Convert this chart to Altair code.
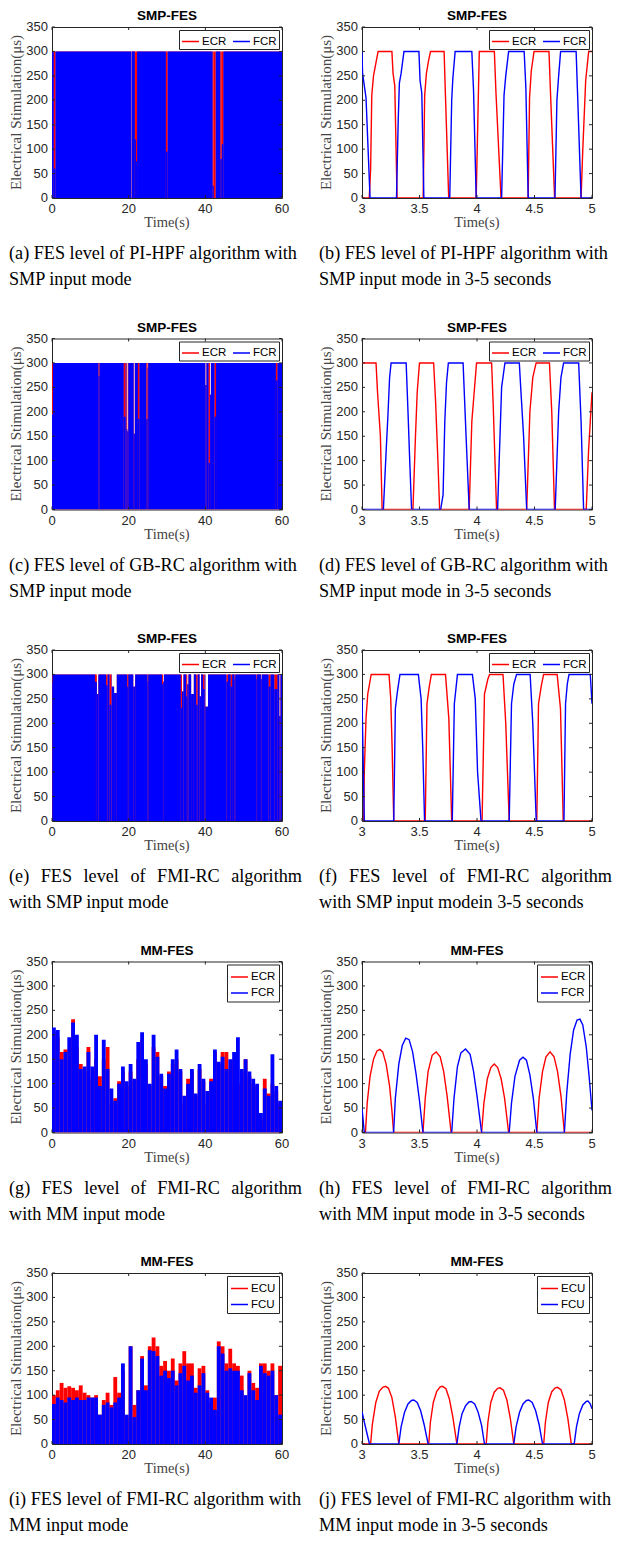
import altair as alt
import pandas as pd

# ---------------------------------------------------------------- style
RED, BLUE = "#ff0000", "#0000ff"
SANS, SERIF = "Liberation Sans", "Liberation Serif"
INK = "#262626"
W, H = 230, 171
COL_GAP, ROW_GAP = 80, 140.5
CAP_SIZE = 18.2
CAP_X = -43
CAP_Y1, CAP_Y2 = H + 61, H + 87
JUST_W = 293

# ---------------------------------------------------------------- ticks
Y_TICKS = [0, 50, 100, 150, 200, 250, 300, 350]
Y_LABELS = ["0", "50", "100", "150", "200", "250", "300", "350"]
X_TICKS_60 = [0, 20, 40, 60]
X_LABELS_60 = ["0", "20", "40", "60"]
X_TICKS_35 = [3, 3.5, 4, 4.5, 5]
X_LABELS_35 = ["3", "3.5", "4", "4.5", "5"]

# ---------------------------------------------------------------- data
# 60 s SMP panels: segments where the envelope departs from the 300 us ceiling
A_T0 = [0.45, 20.6, 21.6, 21.9, 29.7, 41.9, 42.2, 43.9, 44.3]
A_T1 = [0.9, 20.75, 21.9, 22.2, 30.15, 42.2, 42.7, 44.3, 44.7]
A_ECR = [300, 0, 300, 300, 300, 300, 300, 300, 300]
A_FCR = [60, 0, 120, 75, 95, 25, 0, 80, 110]

C_T0 = [0.0, 12.1, 18.7, 19.4, 19.65, 21.3, 22.4, 24.6, 24.95, 40.0, 40.85, 41.2, 42.4, 58.4]
C_T1 = [0.25, 12.4, 19.2, 19.65, 19.9, 21.6, 22.8, 24.95, 25.1, 40.3, 41.2, 41.45, 42.8, 58.8]
C_ECR = [300, 300, 300, 300, 160, 155, 300, 300, 290, 255, 300, 235, 300, 300]
C_FCR = [195, 274, 190, 165, 160, 155, 185, 185, 290, 255, 95, 235, 190, 264]

E_T0 = [0.0, 11.2, 11.7, 14.1, 15.0, 15.6, 16.2, 19.6, 21.2, 24.9, 28.7, 29.0, 33.6, 33.9, 35.0,
        35.3, 36.3, 37.6, 38.5, 39.4, 40.0, 45.5, 46.6, 47.6, 53.3, 54.5, 56.5, 58.0, 59.3]
E_T1 = [0.15, 11.7, 12.1, 14.5, 15.5, 16.2, 16.9, 19.9, 21.7, 25.1, 29.0, 29.2, 33.9, 34.3, 35.3,
        35.6, 37.0, 38.0, 38.9, 39.8, 40.7, 45.9, 47.0, 47.8, 53.5, 54.7, 57.0, 58.8, 59.6]
E_ECR = [300, 300, 260, 300, 300, 275, 262, 300, 275, 300, 300, 285, 300, 265, 300,
         280, 260, 300, 255, 300, 234, 300, 300, 300, 300, 290, 300, 300, 215]
E_FCR = [283, 285, 260, 278, 238, 275, 262, 275, 275, 285, 280, 285, 231, 265, 255,
         280, 260, 238, 255, 270, 234, 285, 275, 290, 290, 290, 275, 270, 215]

# 60 s MM panels: per-second envelope (start of each 1 s bin)
BIN_START = list(range(60))
G_ECR = [205, 195, 165, 170, 170, 232, 175, 140, 125, 175, 110, 150, 115, 150, 175, 60, 70, 105, 125, 95,
         125, 105, 150, 190, 140, 95, 175, 165, 115, 95, 125, 140, 150, 125, 60, 110, 125, 75, 130, 105,
         60, 110, 165, 140, 165, 165, 130, 150, 100, 125, 150, 115, 100, 95, 30, 110, 80, 100, 85, 60]
G_FCR = [215, 210, 150, 165, 195, 225, 200, 130, 135, 165, 135, 200, 95, 190, 130, 90, 65, 100, 135, 105,
         140, 110, 185, 205, 150, 100, 200, 155, 120, 90, 120, 150, 170, 130, 75, 100, 130, 80, 140, 110,
         85, 105, 170, 145, 155, 130, 150, 165, 195, 130, 150, 125, 110, 100, 40, 90, 75, 160, 95, 65]
I_ECU = [100, 110, 125, 115, 118, 115, 110, 120, 105, 100, 95, 100, 60, 90, 105, 80, 137, 105, 150, 55,
         200, 80, 110, 180, 120, 200, 218, 200, 160, 170, 150, 175, 130, 165, 190, 165, 165, 115, 155, 160,
         110, 85, 95, 210, 200, 165, 195, 165, 160, 140, 90, 150, 125, 115, 165, 165, 150, 165, 100, 160]
I_FCU = [82, 95, 90, 85, 95, 90, 95, 90, 90, 95, 95, 95, 60, 80, 85, 75, 85, 95, 165, 60,
         200, 55, 110, 175, 110, 192, 190, 180, 140, 150, 135, 150, 120, 145, 160, 130, 140, 105, 120, 145,
         105, 95, 70, 200, 185, 150, 155, 150, 150, 110, 100, 145, 110, 90, 160, 145, 140, 150, 100, 60]

# 3-5 s panels: (time, value) break points
B_ECR_T = [3.0, 3.063, 3.075, 3.085, 3.10, 3.14, 3.26, 3.27, 3.285, 3.305, 3.532, 3.545, 3.56, 3.578, 3.596,
           3.714, 3.725, 3.754, 3.993, 4.02, 4.151, 4.165, 4.209, 4.445, 4.457, 4.472, 4.496, 4.626, 4.64,
           4.675, 4.905, 4.92, 4.945, 4.971, 5.0]
B_ECR_V = [0, 0, 60, 210, 250, 300, 300, 255, 230, 0, 0, 210, 255, 280, 300,
           300, 215, 0, 0, 300, 300, 215, 0, 0, 205, 260, 300, 300, 210,
           0, 0, 100, 240, 300, 300]
B_FCR_T = [3.0, 3.005, 3.035, 3.07, 3.30, 3.315, 3.325, 3.34, 3.365, 3.495, 3.505, 3.52, 3.538, 3.763, 3.78,
           3.79, 3.81, 3.955, 3.97, 3.993, 4.214, 4.235, 4.25, 4.275, 4.41, 4.425, 4.445, 4.678, 4.695, 4.71,
           4.727, 4.862, 4.875, 4.905, 5.0]
B_FCR_V = [300, 255, 205, 0, 0, 160, 235, 255, 300, 300, 240, 215, 0, 0, 200,
           245, 300, 300, 220, 0, 0, 210, 250, 300, 300, 225, 0, 0, 200, 250,
           300, 300, 210, 0, 0]

D_ECR_T = [3.0, 3.122, 3.135, 3.16, 3.175, 3.443, 3.465, 3.48, 3.50, 3.623, 3.64, 3.66, 3.675, 3.932, 3.955,
           3.996, 4.127, 4.14, 4.17, 4.432, 4.46, 4.485, 4.514, 4.63, 4.65, 4.674, 4.95, 4.97, 5.0]
D_ECR_V = [300, 300, 240, 150, 0, 0, 150, 240, 300, 300, 220, 100, 0, 0, 180,
           300, 300, 220, 0, 0, 200, 270, 300, 300, 200, 0, 0, 120, 240]
D_FCR_T = [3.0, 3.186, 3.21, 3.225, 3.24, 3.253, 3.384, 3.40, 3.415, 3.431, 3.684, 3.705, 3.72, 3.735, 3.751,
           3.879, 3.905, 3.932, 4.179, 4.214, 4.243, 4.368, 4.38, 4.405, 4.432, 4.68, 4.71, 4.73, 4.753, 4.884,
           4.905, 4.927, 5.0]
D_FCR_V = [0, 0, 120, 190, 270, 300, 300, 200, 100, 0, 0, 30, 180, 260, 300,
           300, 150, 0, 0, 250, 300, 300, 250, 150, 0, 0, 200, 270, 300, 300,
           180, 0, 0]

F_ECR_T = [3.0, 3.015, 3.02, 3.035, 3.05, 3.08, 3.235, 3.25, 3.262, 3.276, 3.55, 3.565, 3.585, 3.603, 3.726,
           3.755, 3.78, 4.044, 4.065, 4.094, 4.109, 4.226, 4.25, 4.28, 4.52, 4.535, 4.558, 4.579, 4.697, 4.726,
           4.75, 5.0]
F_ECR_V = [0, 0, 100, 210, 260, 300, 300, 250, 150, 0, 0, 240, 275, 300, 300,
           210, 0, 0, 260, 290, 300, 300, 200, 0, 0, 240, 275, 300, 300, 230,
           0, 0]
F_FCR_T = [3.0, 3.02, 3.276, 3.29, 3.308, 3.33, 3.49, 3.514, 3.528, 3.544, 3.785, 3.803, 3.83, 3.96, 3.985,
           4.005, 4.035, 4.28, 4.30, 4.32, 4.344, 4.462, 4.485, 4.515, 4.756, 4.77, 4.785, 4.80, 4.985, 5.0]
F_FCR_V = [250, 0, 0, 230, 265, 300, 300, 250, 150, 0, 0, 240, 300, 300, 250,
           100, 0, 0, 240, 280, 300, 300, 200, 0, 0, 240, 280, 300, 300, 240]

H_ECR_T = [3.0, 3.03, 3.045, 3.07, 3.10, 3.13, 3.155, 3.18, 3.21, 3.24, 3.26, 3.275,
           3.53, 3.55, 3.575, 3.61, 3.645, 3.68, 3.71, 3.74, 3.775,
           4.04, 4.06, 4.09, 4.12, 4.15, 4.18, 4.21, 4.24, 4.275,
           4.52, 4.54, 4.57, 4.60, 4.635, 4.67, 4.70, 4.73, 4.76, 5.0]
H_ECR_V = [0, 0, 60, 115, 150, 167, 170, 165, 140, 95, 45, 0,
           0, 70, 125, 158, 165, 155, 125, 75, 0,
           0, 60, 110, 133, 140, 133, 110, 70, 0,
           0, 70, 125, 155, 165, 155, 125, 75, 0, 0]
H_FCR_T = [3.0, 3.02, 3.275, 3.29, 3.32, 3.35, 3.38, 3.41, 3.44, 3.47, 3.50, 3.53,
           3.78, 3.80, 3.83, 3.86, 3.90, 3.94, 3.97, 4.00, 4.04,
           4.28, 4.30, 4.33, 4.37, 4.40, 4.43, 4.46, 4.49, 4.52,
           4.76, 4.78, 4.81, 4.84, 4.87, 4.895, 4.92, 4.95, 4.975, 5.0]
H_FCR_V = [50, 0, 0, 70, 140, 178, 193, 190, 165, 120, 65, 0,
           0, 70, 135, 163, 171, 160, 125, 75, 0,
           0, 60, 115, 148, 154, 148, 118, 70, 0,
           0, 80, 160, 210, 230, 232, 220, 175, 115, 45]

J_ECU_T = [3.0, 3.075, 3.09, 3.12, 3.15, 3.18, 3.205, 3.23, 3.26, 3.29, 3.32,
           3.58, 3.595, 3.62, 3.65, 3.68, 3.70, 3.73, 3.76, 3.79, 3.825,
           4.08, 4.095, 4.12, 4.15, 4.18, 4.20, 4.23, 4.26, 4.29, 4.32,
           4.58, 4.595, 4.62, 4.65, 4.68, 4.70, 4.73, 4.76, 4.79, 4.82, 5.0]
J_ECU_V = [0, 0, 40, 85, 108, 116, 118, 114, 95, 55, 0,
           0, 45, 85, 108, 117, 118, 113, 92, 55, 0,
           0, 45, 85, 106, 114, 115, 110, 90, 52, 0,
           0, 45, 85, 107, 115, 116, 111, 90, 52, 0, 0]
J_FCU_T = [3.0, 3.02, 3.045, 3.065, 3.32, 3.34, 3.37, 3.40, 3.43, 3.45, 3.48, 3.51, 3.54, 3.575,
           3.825, 3.845, 3.87, 3.90, 3.93, 3.95, 3.98, 4.01, 4.04, 4.065,
           4.32, 4.34, 4.37, 4.40, 4.43, 4.45, 4.48, 4.51, 4.54, 4.57,
           4.845, 4.865, 4.89, 4.92, 4.95, 4.965, 4.985, 5.0]
J_FCU_V = [66, 45, 20, 0, 0, 35, 65, 82, 89, 90, 85, 68, 40, 0,
           0, 35, 62, 78, 86, 87, 82, 65, 38, 0,
           0, 35, 65, 82, 89, 90, 85, 68, 40, 0,
           0, 35, 62, 80, 87, 88, 82, 72]

# ---------------------------------------------------------------- text
TITLE_SMP, TITLE_MM = "SMP-FES", "MM-FES"
MUSCLES_R = ["ECR", "FCR"]
MUSCLES_U = ["ECU", "FCU"]
X_TITLE = "Time(s)"
Y_TITLE = "Electrical Stimulation(\u03bcs)"
CAPTIONS = {
    "a": [("(a) FES level of PI-HPF algorithm with", False), ("SMP input mode", False)],
    "b": [("(b) FES level of PI-HPF algorithm with", False), ("SMP input mode in 3-5 seconds", False)],
    "c": [("(c) FES level of GB-RC algorithm with", False), ("SMP input mode", False)],
    "d": [("(d) FES level of GB-RC algorithm with", False), ("SMP input mode in 3-5 seconds", False)],
    "e": [("(e) FES level of FMI-RC algorithm", True), ("with SMP input mode", False)],
    "f": [("(f) FES level of FMI-RC algorithm", True), ("with SMP input modein 3-5 seconds", False)],
    "g": [("(g) FES level of FMI-RC algorithm", True), ("with MM input mode", False)],
    "h": [("(h) FES level of FMI-RC algorithm", True), ("with MM input mode in 3-5 seconds", False)],
    "i": [("(i) FES level of FMI-RC algorithm with", False), ("MM input mode", False)],
    "j": [("(j) FES level of FMI-RC algorithm with", False), ("MM input mode in 3-5 seconds", False)],
}

# Times / Liberation Serif advance widths (1/1000 em) used to justify caption lines
TW = {" ": 250, "(": 333, ")": 333, "-": 333, "a": 444, "b": 500, "c": 444, "d": 500, "e": 444,
      "f": 333, "g": 500, "h": 500, "i": 278, "j": 278, "l": 278, "m": 778, "n": 500, "o": 500,
      "r": 333, "s": 389, "t": 278, "v": 500, "w": 722, "C": 667, "E": 611, "F": 556, "H": 722,
      "I": 333, "M": 889, "P": 556, "R": 667, "S": 556, "G": 722, "B": 667}


def text_w(s, size):
    return sum(TW.get(ch, 500) for ch in s) / 1000.0 * size


def justify(line, width, size):
    words = line.split(" ")
    total = sum(text_w(w, size) for w in words)
    gap = (width - total) / (len(words) - 1)
    out, x = [], 0.0
    for w in words:
        out.append((w, x))
        x += text_w(w, size) + gap
    return out


# ---------------------------------------------------------------- builders
def frame_layers(xs, ys, xticks, xlabels):
    xt = pd.DataFrame({"v": xticks, "lab": xlabels})
    yt = pd.DataFrame({"v": Y_TICKS, "lab": Y_LABELS})
    out = []
    # inward ticks on all four sides
    for a, b in [(H, H - 3), (0, 3)]:
        out.append(alt.Chart(xt).mark_rule(color=INK, strokeWidth=1).encode(
            x=alt.X("v:Q", scale=xs, axis=None), y=alt.value(a), y2=alt.value(b)))
    for a, b in [(0, 3), (W, W - 3)]:
        out.append(alt.Chart(yt).mark_rule(color=INK, strokeWidth=1).encode(
            y=alt.Y("v:Q", scale=ys, axis=None), x=alt.value(a), x2=alt.value(b)))
    # tick labels
    out.append(alt.Chart(xt).mark_text(font=SANS, fontSize=13, color=INK, align="center",
                                       baseline="top").encode(
        x=alt.X("v:Q", scale=xs, axis=None), y=alt.value(H + 5), text="lab:N"))
    out.append(alt.Chart(yt).mark_text(font=SANS, fontSize=13, color=INK, align="right",
                                       baseline="middle").encode(
        y=alt.Y("v:Q", scale=ys, axis=None), x=alt.value(-4), text="lab:N"))
    # axis titles
    out.append(alt.Chart(pd.DataFrame({"s": [X_TITLE]})).mark_text(
        font=SERIF, fontSize=14.5, color="#444444", align="center", baseline="middle").encode(
        text="s:N", x=alt.value(W / 2), y=alt.value(H + 25)))
    out.append(alt.Chart(pd.DataFrame({"s": [Y_TITLE]})).mark_text(
        font=SERIF, fontSize=15, color="#444444", align="center", baseline="middle",
        angle=270).encode(text="s:N", x=alt.value(-36), y=alt.value(H / 2)))
    return out


def text_layers(title, key):
    out = [alt.Chart(pd.DataFrame({"s": [title]})).mark_text(
        font=SANS, fontSize=13.5, fontWeight="bold", color="black", align="center", baseline="middle"
    ).encode(text="s:N", x=alt.value(W / 2), y=alt.value(-11))]
    for i, (line, just) in enumerate(CAPTIONS[key]):
        y = CAP_Y1 if i == 0 else CAP_Y2
        items = justify(line, JUST_W, CAP_SIZE) if just else [(line, 0.0)]
        for word, px in items:
            out.append(alt.Chart(pd.DataFrame({"s": [word]})).mark_text(
                font=SERIF, fontSize=CAP_SIZE, color="black", align="left", baseline="alphabetic"
            ).encode(text="s:N", x=alt.value(CAP_X + px), y=alt.value(y)))
    return out


def make_legend(direction):
    return alt.Legend(
        title=None, orient="top-right", direction=direction, symbolType="stroke", symbolSize=289,
        symbolStrokeWidth=1.5, labelFont=SANS, labelFontSize=11.5, labelColor="black", labelOffset=2,
        columnPadding=3, rowPadding=1, padding=2 if direction == "horizontal" else 3, offset=3,
        strokeColor=INK, fillColor="white", cornerRadius=0)


def line_panel(title, labels, ecr_t, ecr_v, fcr_t, fcr_v, direction, key):
    xs = alt.Scale(domain=[3, 5], nice=False, zero=False)
    ys = alt.Scale(domain=[0, 350], nice=False)
    cs = alt.Scale(domain=labels, range=[RED, BLUE])
    df = pd.concat([
        pd.DataFrame({"t": ecr_t, "v": ecr_v, "series": labels[0]}),
        pd.DataFrame({"t": fcr_t, "v": fcr_v, "series": labels[1]}),
    ])
    lines = alt.Chart(df).mark_line(strokeWidth=1.4, clip=True).encode(
        x=alt.X("t:Q", scale=xs, axis=None),
        y=alt.Y("v:Q", scale=ys, axis=None),
        color=alt.Color("series:N", scale=cs, legend=make_legend(direction)),
    )
    layers = [lines] + frame_layers(xs, ys, X_TICKS_35, X_LABELS_35) + text_layers(title, key)
    return alt.layer(*layers).properties(width=W, height=H)


def bar_panel(title, labels, seg_df, direction, key):
    xs = alt.Scale(domain=[0, 60], nice=False, zero=False)
    ys = alt.Scale(domain=[0, 350], nice=False)
    cs = alt.Scale(domain=labels, range=[RED, BLUE])
    red = alt.Chart(seg_df).mark_rect(color=RED, clip=True).encode(
        x=alt.X("t0:Q", scale=xs, axis=None), x2="t1:Q",
        y=alt.Y("base:Q", scale=ys, axis=None), y2="ecr:Q")
    blue = alt.Chart(seg_df).mark_rect(color=BLUE, clip=True).encode(
        x=alt.X("t0:Q", scale=xs, axis=None), x2="t1:Q",
        y=alt.Y("base:Q", scale=ys, axis=None), y2="fcr:Q")
    key_df = pd.DataFrame({"series": labels, "t": [0, 0], "v": [0, 0]})
    legend_layer = alt.Chart(key_df).mark_line(strokeWidth=1.4).encode(
        x=alt.X("t:Q", scale=xs, axis=None),
        y=alt.Y("v:Q", scale=ys, axis=None),
        color=alt.Color("series:N", scale=cs, legend=make_legend(direction)),
    )
    layers = [red, blue, legend_layer] + frame_layers(xs, ys, X_TICKS_60, X_LABELS_60) + text_layers(title, key)
    return alt.layer(*layers).properties(width=W, height=H)


def smp_segments(t0s, t1s, ecr, fcr, full=300, tmax=60.0):
    ev = sorted(zip(t0s, t1s, ecr, fcr))
    rows, cur = [], 0.0
    for a, b, e, f in ev:
        if a > cur:
            rows.append((cur, a, full, full))
        rows.append((a, b, e, f))
        cur = b
    if cur < tmax:
        rows.append((cur, tmax, full, full))
    df = pd.DataFrame(rows, columns=["t0", "t1", "ecr", "fcr"])
    df["base"] = 0
    return df


def mm_segments(starts, ecr, fcr):
    return pd.DataFrame({"t0": starts, "t1": [s + 1 for s in starts], "ecr": ecr, "fcr": fcr,
                         "base": [0] * len(starts)})


panels = [
    bar_panel(TITLE_SMP, MUSCLES_R, smp_segments(A_T0, A_T1, A_ECR, A_FCR), "horizontal", "a"),
    line_panel(TITLE_SMP, MUSCLES_R, B_ECR_T, B_ECR_V, B_FCR_T, B_FCR_V, "horizontal", "b"),
    bar_panel(TITLE_SMP, MUSCLES_R, smp_segments(C_T0, C_T1, C_ECR, C_FCR), "horizontal", "c"),
    line_panel(TITLE_SMP, MUSCLES_R, D_ECR_T, D_ECR_V, D_FCR_T, D_FCR_V, "horizontal", "d"),
    bar_panel(TITLE_SMP, MUSCLES_R, smp_segments(E_T0, E_T1, E_ECR, E_FCR), "horizontal", "e"),
    line_panel(TITLE_SMP, MUSCLES_R, F_ECR_T, F_ECR_V, F_FCR_T, F_FCR_V, "horizontal", "f"),
    bar_panel(TITLE_MM, MUSCLES_R, mm_segments(BIN_START, G_ECR, G_FCR), "vertical", "g"),
    line_panel(TITLE_MM, MUSCLES_R, H_ECR_T, H_ECR_V, H_FCR_T, H_FCR_V, "vertical", "h"),
    bar_panel(TITLE_MM, MUSCLES_U, mm_segments(BIN_START, I_ECU, I_FCU), "vertical", "i"),
    line_panel(TITLE_MM, MUSCLES_U, J_ECU_T, J_ECU_V, J_FCU_T, J_FCU_V, "vertical", "j"),
]

chart = alt.concat(
    *panels, columns=2, spacing={"row": ROW_GAP, "column": COL_GAP}, bounds="flush"
).resolve_scale(
    x="independent", y="independent", color="independent"
).resolve_legend(
    color="independent"
).properties(
    padding=0, background="white"
).configure_view(
    stroke=INK, strokeWidth=1
)

chart.save("out.html", embed_options={"renderer": "svg", "actions": False})
